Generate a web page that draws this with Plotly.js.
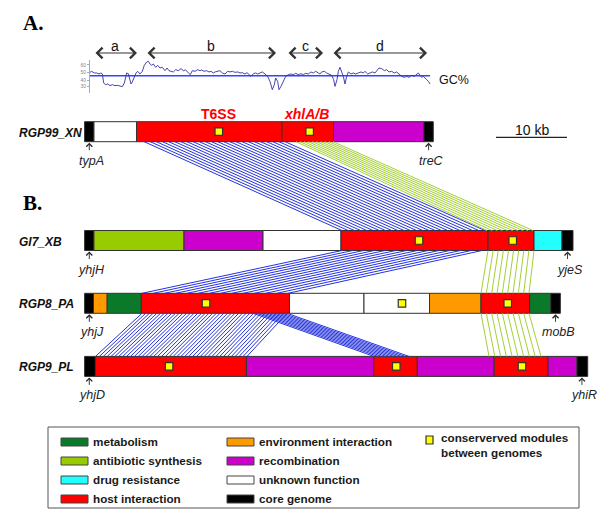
<!DOCTYPE html>
<html><head><meta charset="utf-8">
<script src="https://cdn.plot.ly/plotly-3.0.1.min.js"></script>
<style>body{margin:0;background:#fff}#chart{width:600px;height:531px}</style>
</head><body><div id="chart"></div>
<script>
// ================= DATA =================
// functional categories
const categories = ['metabolism','antibiotic synthesis','drug resistance','host interaction',
                    'environment interaction','recombination','unknown function','core genome'];

// genomic islands: segment lengths (kb) and categories, left to right
const genomes = ['RGP99_XN','GI7_XB','RGP8_PA','RGP9_PL'];
const rgp99_len = [1.32, 5.99, 20.49, 7.26, 12.74, 1.31];
const rgp99_cat = ['core genome','unknown function','host interaction','host interaction','recombination','core genome'];
const gi7_len = [1.32, 12.68, 11.13, 10.98, 20.71, 6.48, 3.94, 1.55];
const gi7_cat = ['core genome','antibiotic synthesis','recombination','unknown function','host interaction','host interaction','drug resistance','core genome'];
const rgp8_len = [1.25, 1.93, 4.81, 20.87, 10.49, 9.23, 7.25, 6.85, 2.98, 1.35];
const rgp8_cat = ['core genome','environment interaction','metabolism','host interaction','unknown function','unknown function','environment interaction','host interaction','metabolism','core genome'];
const rgp9_len = [1.52, 21.28, 17.93, 6.13, 10.83, 7.58, 4.08, 1.51];
const rgp9_cat = ['core genome','host interaction','recombination','host interaction','recombination','host interaction','recombination','core genome'];

// conserved modules (kb position inside each island)
const rgp99_mods = [18.9, 31.7];
const gi7_mods = [47.1, 60.3];
const rgp8_mods = [17.1, 44.7, 59.6];
const rgp9_mods = [11.9, 43.9, 61.6];

// flanking core genes (kb)
const flank_left_names = ['typA','yhjH','yhjJ','yhjD'];
const flank_left_pos = [0.66, 0.66, 0.66, 0.66];
const flank_right_names = ['treC','yjeS','mobB','yhiR'];
const flank_right_pos = [48.45, 68.02, 66.33, 70.05];

// homologous blocks between islands (kb on upper island -> kb on lower island)
const link_from = ['RGP99_XN','RGP99_XN','GI7_XB','GI7_XB','RGP8_PA','RGP8_PA','RGP8_PA'];
const link_to   = ['GI7_XB','GI7_XB','RGP8_PA','RGP8_PA','RGP9_PL','RGP9_PL','RGP9_PL'];
const link_from_start = [8.38, 29.77, 36.25, 56.82, 8.08, 23.72, 55.83];
const link_from_end   = [28.23, 34.99, 55.97, 63.30, 28.51, 28.51, 62.59];
const link_to_start   = [36.25, 56.68, 8.08, 55.83, 1.54, 40.76, 56.96];
const link_to_end     = [56.39, 63.15, 28.65, 62.59, 22.87, 45.69, 64.28];
const link_module     = ['T6SS','xhlA/B','T6SS','xhlA/B','T6SS','T6SS','xhlA/B'];
const link_lines      = [24, 10, 14, 10, 40, 10, 10];

// GC% profile of RGP99_XN (kb, %)
const gc_kb = [0.62,0.99,1.37,1.70,2.03,2.31,2.50,2.69,2.97,3.25,3.58,3.91,4.28,4.66,4.99,5.31,5.60,5.78,5.92,6.16,
 6.39,6.54,6.72,7.00,7.24,7.47,7.80,8.13,8.41,8.74,8.98,9.21,9.45,9.68,10.01,10.29,10.62,10.95,11.32,11.61,
 11.89,12.17,12.50,12.83,13.20,13.58,13.91,14.23,14.61,14.89,15.17,15.55,15.92,16.25,16.49,16.82,17.19,17.52,17.80,18.13,
 18.37,18.74,19.07,19.40,19.77,20.15,20.48,20.81,21.18,21.56,21.89,22.22,22.59,22.87,23.15,23.44,23.77,24.09,24.38,
 24.70,25.03,25.41,25.78,26.11,26.44,26.72,26.91,27.19,27.38,27.66,27.99,28.32,28.70,29.07,29.40,29.73,30.10,30.48,30.81,
 31.14,31.51,31.89,32.22,32.55,32.92,33.16,33.39,33.77,34.09,34.42,34.80,35.08,35.27,35.55,35.74,35.97,36.21,36.44,36.68,
 36.91,37.15,37.52,37.85,38.18,38.55,38.93,39.26,39.49,39.87,40.20,40.53,40.90,41.18,41.47,41.84,42.22,42.55,42.87,43.25,
 43.63,43.95,44.28,44.66,45.03,45.36,45.69,46.07,46.44,46.77,47.01,47.24,47.48,47.71,47.95,48.18,48.42,48.65];
const gc_pct = [48.8,51.1,48.8,48.8,47.4,48.8,47.4,34.9,32.6,33.5,31.2,32.6,31.2,31.6,30.7,29.8,34.9,44.1,48.8,47.8,
 39.5,33.5,36.3,44.1,48.8,51.1,47.4,51.1,59.4,64.0,65.0,61.3,59.4,61.3,56.6,59.4,55.7,56.6,52.0,55.7,
 52.0,51.1,50.2,53.4,52.0,54.8,52.0,52.9,48.8,46.5,52.0,51.1,53.4,52.0,52.9,51.1,52.0,50.2,51.1,48.8,
 50.2,51.1,52.0,48.8,47.4,51.1,50.2,51.1,49.7,50.2,48.8,49.2,47.4,49.2,46.5,44.1,47.8,48.8,47.4,
 48.8,50.2,47.4,44.1,37.2,25.6,32.6,41.8,37.2,25.6,30.2,38.1,44.1,46.5,47.4,46.5,48.3,46.5,47.8,46.5,
 48.3,47.4,50.2,48.8,51.1,48.8,47.4,50.2,51.1,48.8,47.4,45.5,39.5,30.2,39.5,51.1,56.6,51.1,44.1,33.5,
 44.1,50.2,47.4,48.8,47.4,48.8,50.2,48.8,51.1,47.4,48.8,50.2,48.8,52.0,55.7,54.8,52.0,53.4,50.2,51.1,
 48.8,50.2,47.4,44.1,42.7,44.1,42.7,45.5,44.1,47.4,48.8,45.5,42.7,44.1,40.9,39.5,37.2,33.5];
const gc_mean = 45;
const gc_ticks = [59.9, 49.7, 39.0, 29.7];
const gc_ticklabels = ['60','50','40','30'];

// regions of the GC profile
const region_names = ['a','b','c','d'];
const region_start = [1.32, 8.65, 28.51, 34.85];
const region_end   = [7.38, 26.96, 33.58, 48.23];

const scale_kb = 10;

// ================= STYLE / LAYOUT =================
const catColor = {
  'metabolism':'#0a7a2a','antibiotic synthesis':'#99cc00','drug resistance':'#22ffff',
  'host interaction':'#ff0000','environment interaction':'#ff9900','recombination':'#cc00cc',
  'unknown function':'#ffffff','core genome':'#000000'
};
const linkColor = {'T6SS':'#2633dc','xhlA/B':'#a4d034'};
const rowY = {RGP99_XN:131.7, GI7_XB:240.5, RGP8_PA:303.3, RGP9_PL:366.4};
const BAR_H = 20;
const W = 600, H = 531;
const PXKB = 7.1, X0 = 84.6;            // pixel of 0 kb, pixels per kb
const xr = [-X0/PXKB, (W-X0)/PXKB];
const P = v => v / W;                    // pixel -> paper x
const K = v => (v - X0) / PXKB;          // pixel -> kb (layout helper only)

const rows = {
  RGP99_XN:{len:rgp99_len, cat:rgp99_cat, mods:rgp99_mods},
  GI7_XB:{len:gi7_len, cat:gi7_cat, mods:gi7_mods},
  RGP8_PA:{len:rgp8_len, cat:rgp8_cat, mods:rgp8_mods},
  RGP9_PL:{len:rgp9_len, cat:rgp9_cat, mods:rgp9_mods}
};

const traces = [];
// hatch links
link_from.forEach((f,i)=>{
  const t = link_to[i], n = link_lines[i];
  const yA = rowY[f] + BAR_H/2, yB = rowY[t] - BAR_H/2;
  const xs=[], ys=[];
  for(let k=0;k<n;k++){
    const fr = k/(n-1);
    xs.push(link_from_start[i] + fr*(link_from_end[i]-link_from_start[i]),
            link_to_start[i] + fr*(link_to_end[i]-link_to_start[i]), null);
    ys.push(yA, yB, null);
  }
  traces.push({type:'scatter',mode:'lines',x:xs,y:ys,line:{color:linkColor[link_module[i]],width:1},
               hoverinfo:'skip',showlegend:false});
});
// island bars
genomes.forEach(g=>{
  const r = rows[g]; let acc=0; const base=[];
  r.len.forEach(l=>{base.push(acc); acc+=l;});
  traces.push({type:'bar',orientation:'h',y:r.len.map(()=>rowY[g]),x:r.len,base:base,width:BAR_H,
    marker:{color:r.cat.map(c=>catColor[c]),line:{color:'#333',width:1}},hoverinfo:'skip',showlegend:false});
  traces.push({type:'scatter',mode:'markers',x:r.mods,y:r.mods.map(()=>rowY[g]),
    marker:{symbol:'square',size:7.5,color:'#ffff00',line:{color:'#333',width:1.2}},hoverinfo:'skip',showlegend:false});
});
// GC profile
traces.push({type:'scatter',mode:'lines',x:[gc_kb[0],gc_kb[gc_kb.length-1]],y:[gc_mean,gc_mean],yaxis:'y2',
  line:{color:'#3344ff',width:1.4},hoverinfo:'skip',showlegend:false});
traces.push({type:'scatter',mode:'lines',x:gc_kb,y:gc_pct,yaxis:'y2',
  line:{color:'#3030a8',width:0.9},hoverinfo:'skip',showlegend:false});

const ann = [], shapes = [];
const F = 'Liberation Sans, Arial, sans-serif';
ann.push({xref:'paper',yref:'y',x:P(21),y:23,text:'<b>A.</b>',showarrow:false,xanchor:'left',
  font:{family:'Liberation Serif, Times New Roman, serif',size:21,color:'#000'}});
ann.push({xref:'paper',yref:'y',x:P(21),y:203,text:'<b>B.</b>',showarrow:false,xanchor:'left',
  font:{family:'Liberation Serif, Times New Roman, serif',size:21,color:'#000'}});
// region arrows
region_names.forEach((n,i)=>{
  ann.push({xref:'x',yref:'y',axref:'x',ayref:'y',x:region_end[i],y:53,ax:region_start[i],ay:53,text:'',
    showarrow:true,arrowside:'end+start',arrowhead:4,startarrowhead:4,arrowsize:1.9,startarrowsize:1.9,
    arrowwidth:1.1,arrowcolor:'#333'});
  ann.push({xref:'x',yref:'y',x:(region_start[i]+region_end[i])/2,y:46,text:n,showarrow:false,
    font:{family:F,size:14,color:'#111'}});
});
ann.push({xref:'paper',yref:'y',x:P(437),y:80,text:'GC%',showarrow:false,xanchor:'left',font:{family:F,size:12.5,color:'#111'}});
// module labels
ann.push({xref:'x',yref:'y',x:rgp99_mods[0]-0.1,y:114,text:'<b>T6SS</b>',showarrow:false,font:{family:F,size:14,color:'#ff0000'}});
ann.push({xref:'x',yref:'y',x:rgp99_mods[1]-0.4,y:114,text:'<b><i>xhlA/B</i></b>',showarrow:false,font:{family:F,size:14,color:'#ff0000'}});
// genome names
genomes.forEach(g=>{
  ann.push({xref:'paper',yref:'y',x:P(17),y:rowY[g]+1,text:'<b><i>'+g+'</i></b>',showarrow:false,xanchor:'left',
    font:{family:F,size:12,color:'#111'}});
});
// flanking genes
genomes.forEach((g,i)=>{
  const yb = rowY[g]+BAR_H/2;
  [[flank_left_names[i],flank_left_pos[i]],[flank_right_names[i],flank_right_pos[i]]].forEach(([nm,pos])=>{
    ann.push({xref:'x',yref:'y',axref:'x',ayref:'y',x:pos,y:yb+1,ax:pos,ay:yb+10,text:'',showarrow:true,
      arrowhead:4,arrowsize:1.3,arrowwidth:0.9,arrowcolor:'#222'});
    ann.push({xref:'x',yref:'y',x:pos+0.35,y:yb+19,text:'<i>'+nm+'</i>',showarrow:false,font:{family:F,size:12.5,color:'#222'}});
  });
});
// scale bar
shapes.push({type:'line',xref:'x',yref:'y',x0:K(496),x1:K(496)+scale_kb,y0:137.3,y1:137.3,line:{color:'#222',width:1.2}});
ann.push({xref:'x',yref:'y',x:K(496)+scale_kb/2,y:130,text:scale_kb+' kb',showarrow:false,font:{family:F,size:14,color:'#111'}});

// legend (drawn)
shapes.push({type:'rect',xref:'paper',yref:'y',x0:P(48),x1:P(579),y0:427,y1:508,line:{color:'#555',width:1},fillcolor:'rgba(0,0,0,0)'});
const legRows = [442, 461, 480, 499];
const legCols = [[61,88,91],[227,254,257]];
categories.forEach((c,i)=>{
  const col = legCols[Math.floor(i/4)], yy = legRows[i%4];
  shapes.push({type:'rect',xref:'paper',yref:'y',x0:P(col[0]),x1:P(col[1]),y0:yy-4,y1:yy+4,
    fillcolor:catColor[c],line:{color:'#444',width:1}});
  ann.push({xref:'paper',yref:'y',x:P(col[2]),y:yy-1,text:'<b>'+c+'</b>',showarrow:false,xanchor:'left',
    font:{family:F,size:11.7,color:'#1a1a1a'}});
});
shapes.push({type:'rect',xref:'paper',yref:'y',x0:P(426),x1:P(433),y0:436,y1:444,fillcolor:'#ffff00',line:{color:'#333',width:1.2}});
ann.push({xref:'paper',yref:'y',x:P(439),y:429,yanchor:'top',xanchor:'left',align:'left',
  text:'<b>conserverved modules<br>between genomes</b>',showarrow:false,font:{family:F,size:11.7,color:'#1a1a1a'}});

const layout = {
  width:W,height:H,margin:{l:0,r:0,t:0,b:0},paper_bgcolor:'#fff',plot_bgcolor:'#fff',
  barmode:'overlay',showlegend:false,
  xaxis:{range:xr,visible:false,fixedrange:true},
  yaxis:{range:[H,0],visible:false,fixedrange:true},
  yaxis2:{domain:[(H-93)/H,(H-60)/H],range:[21.0,66.8],anchor:'free',position:P(89),
    showline:true,linecolor:'#aaa',linewidth:1,ticks:'outside',ticklen:2,tickcolor:'#aaa',
    tickvals:gc_ticks,ticktext:gc_ticklabels,tickfont:{size:5,color:'#888',family:F},
    showgrid:false,zeroline:false,fixedrange:true},
  annotations:ann,shapes:shapes
};
Plotly.newPlot('chart',traces,layout,{staticPlot:true,displayModeBar:false});
</script></body></html>
